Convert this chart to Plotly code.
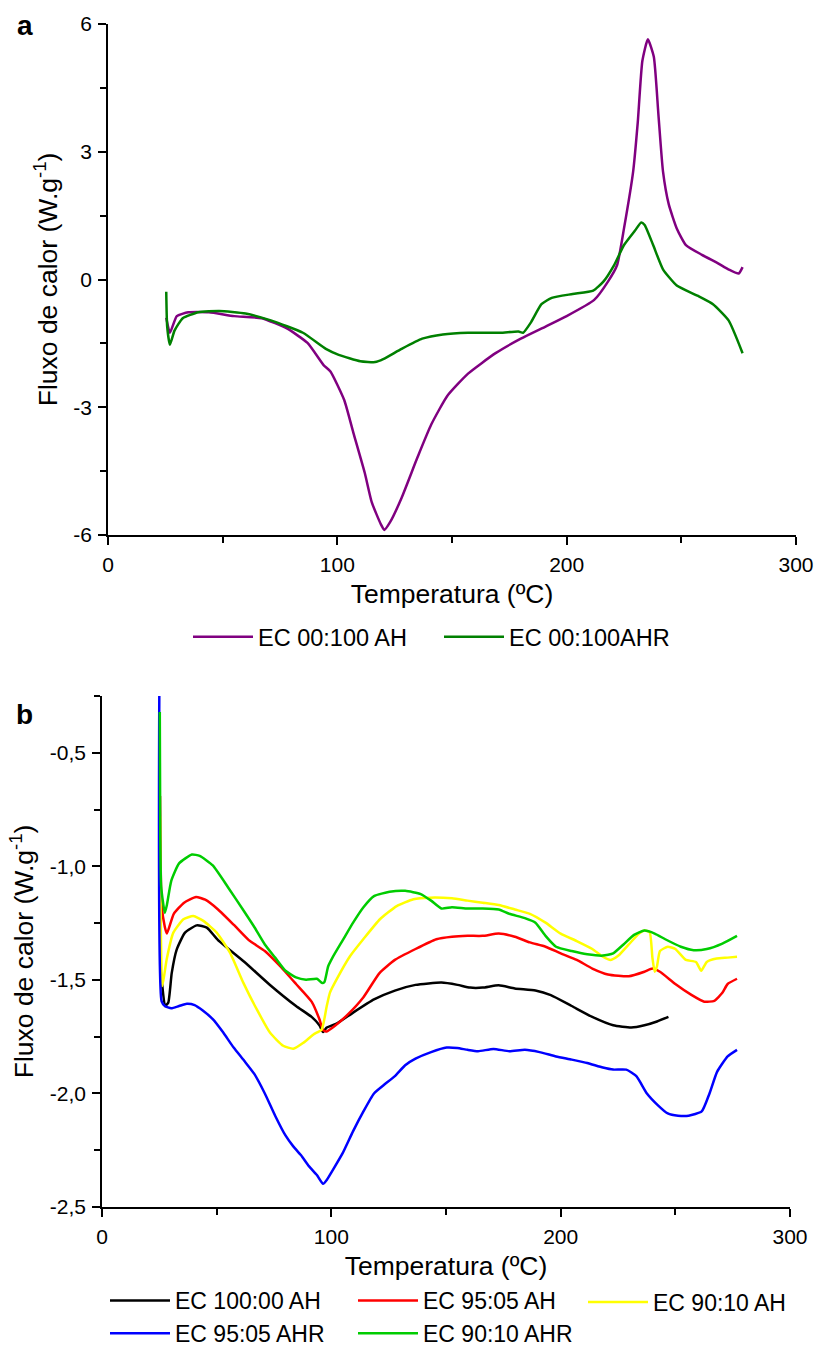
import plotly.graph_objects as go

# ---------------- Panel a data ----------------
a_x_ticks = [0, 100, 200, 300]
a_x_ticktext = ["0", "100", "200", "300"]
a_y_ticks = [-6, -3, 0, 3, 6]
a_y_ticktext = ["-6", "-3", "0", "3", "6"]

ah_T = [25.4, 27, 30, 35, 44, 55, 67, 78, 87, 94, 97, 103, 107, 112, 115, 119, 120.5, 123, 128,
        135, 141, 148, 157, 169, 180, 191, 200, 212, 218, 222, 225, 229, 231, 233, 235.4, 238, 240,
        242, 244.5, 248, 252, 259, 266, 270.5, 275, 276.7]
ah_V = [-0.9, -1.25, -0.86, -0.77, -0.77, -0.86, -0.91, -1.15, -1.49, -2.01, -2.16, -2.83, -3.6,
        -4.55, -5.23, -5.75, -5.88, -5.7, -5.13, -4.17, -3.40, -2.73, -2.21, -1.73, -1.39, -1.10,
        -0.86, -0.48, -0.05, 0.34, 1.20, 2.54, 3.69, 5.13, 5.64, 5.23, 3.88, 2.54, 1.77, 1.20, 0.81,
        0.58, 0.38, 0.24, 0.14, 0.29]

ahr_T = [25.4, 25.8, 27, 29, 32.6, 39.4, 48.5, 60, 71, 85, 95, 100.6, 110, 116.5, 120, 128, 137,
         146, 157, 171, 179, 181, 184.5, 189, 193.5, 202.6, 211.6, 216, 220.7, 225, 229.8, 232.5,
         234, 237.7, 242, 248, 257, 263.8, 270.6, 276.7]
ahr_V = [-0.29, -1.1, -1.53, -1.20, -0.91, -0.77, -0.74, -0.80, -0.96, -1.25, -1.63, -1.77, -1.92,
         -1.94, -1.87, -1.63, -1.39, -1.29, -1.25, -1.25, -1.22, -1.25, -1.0, -0.58, -0.43, -0.34,
         -0.26, -0.05, 0.34, 0.81, 1.15, 1.34, 1.28, 0.81, 0.24, -0.14, -0.38, -0.58, -0.96, -1.73]

# ---------------- Panel b data ----------------
b_x_ticks = [0, 100, 200, 300]
b_x_ticktext = ["0", "100", "200", "300"]
b_y_ticks = [-2.5, -2.0, -1.5, -1.0, -0.5]
b_y_ticktext = ["-2,5", "-2,0", "-1,5", "-1,0", "-0,5"]

k100_T = [25.5, 26.3, 27.5, 28.9, 30.4, 32.6, 36.2, 41.3, 45.7, 50.6, 62, 73, 84.6, 91.4, 94.8,
          96.4, 98, 102.7, 109.5, 118.6, 127.7, 136.7, 148, 155, 160.5, 166, 173, 180, 189, 195.7,
          204.8, 213.8, 222.9, 230.8, 236.5, 242, 247]
k100_V = [-1.45, -1.527, -1.615, -1.6, -1.47, -1.366, -1.292, -1.26, -1.27, -1.325, -1.42, -1.52,
          -1.615, -1.663, -1.70, -1.73, -1.71, -1.69, -1.644, -1.586, -1.547, -1.522, -1.512,
          -1.522, -1.534, -1.534, -1.524, -1.538, -1.547, -1.567, -1.615, -1.663, -1.70, -1.71,
          -1.70, -1.683, -1.663]

r95_T = [25.3, 26, 27.4, 28.3, 31.3, 35.8, 41, 45, 50.6, 57.4, 64, 71, 77.8, 84.6, 91.4, 94.8,
         96.4, 98, 101.6, 107, 114, 121, 127.7, 136.7, 145.8, 152.6, 159.4, 166, 173, 180, 186.6,
         193.4, 200, 207, 213.8, 220.6, 229.7, 236.5, 240, 243.3, 250, 257, 262.6, 267, 270.5,
         272.8, 276.9]
r95_V = [-0.69, -1.17, -1.267, -1.296, -1.209, -1.16, -1.135, -1.147, -1.19, -1.257, -1.325,
         -1.373, -1.441, -1.518, -1.596, -1.673, -1.721, -1.727, -1.702, -1.654, -1.576, -1.47,
         -1.412, -1.364, -1.321, -1.31, -1.306, -1.306, -1.296, -1.31, -1.335, -1.354, -1.383,
         -1.412, -1.45, -1.476, -1.484, -1.464, -1.45, -1.464, -1.518, -1.566, -1.596, -1.592,
         -1.557, -1.518, -1.495]

y90_T = [25.3, 26.3, 28.2, 31.1, 35.5, 39.8, 44.2, 50, 55.8, 61.6, 67.5, 73.3, 79, 83.4, 87.8,
         92.2, 95.8, 98, 99.4, 102.3, 108.2, 114, 121.2, 128.5, 135.8, 143, 152.6, 159.4, 166, 173,
         180, 186.6, 193.4, 200, 207, 213.8, 218.4, 221.8, 225.2, 229.7, 234.2, 236.5, 238.8, 240,
         241, 242, 243.3, 246.7, 250, 254.6, 259, 261.3, 263.7, 268, 272.8, 276.9]
y90_V = [-0.78, -1.527, -1.41, -1.292, -1.233, -1.219, -1.24, -1.292, -1.38, -1.512, -1.63,
         -1.733, -1.79, -1.803, -1.777, -1.74, -1.718, -1.615, -1.556, -1.498, -1.395, -1.32,
         -1.233, -1.175, -1.145, -1.138, -1.141, -1.151, -1.16, -1.17, -1.19, -1.209, -1.248,
         -1.296, -1.329, -1.364, -1.398, -1.412, -1.393, -1.344, -1.296, -1.283, -1.29, -1.402,
         -1.464, -1.44, -1.373, -1.354, -1.364, -1.412, -1.421, -1.46, -1.421, -1.406, -1.402,
         -1.398]

b95r_T = [25, 26, 27.4, 30.2, 33.6, 37, 40.4, 43.8, 48.3, 52.8, 57.4, 62, 66.4, 71, 75.5, 80,
          83.4, 86.8, 90.2, 93.7, 96.4, 98.2, 100.5, 105, 109.5, 114, 118.6, 123, 127.7, 132.2,
          136.7, 143.5, 150.3, 154.9, 159.4, 164, 170.7, 177.6, 184.4, 190.8, 198, 204.8, 211.6,
          218.4, 222.9, 228.6, 233, 237.6, 242.2, 246.7, 251.2, 255.8, 261.5, 264.9, 268.2, 272.8,
          276.9]
b95r_V = [-0.22, -1.595, -1.615, -1.625, -1.615, -1.605, -1.611, -1.634, -1.673, -1.731, -1.798,
          -1.856, -1.914, -2.0, -2.098, -2.185, -2.233, -2.272, -2.32, -2.359, -2.398, -2.378,
          -2.34, -2.262, -2.166, -2.079, -2.0, -1.962, -1.924, -1.876, -1.847, -1.818, -1.798,
          -1.8, -1.808, -1.814, -1.804, -1.814, -1.808, -1.818, -1.837, -1.851, -1.866, -1.886,
          -1.895, -1.895, -1.924, -2.0, -2.05, -2.088, -2.098, -2.098, -2.079, -2.0, -1.905,
          -1.837, -1.808]

g90r_T = [25.2, 25.4, 25.8, 27.4, 28.3, 30.2, 33.6, 39.2, 42.6, 48.3, 55, 62, 66.4, 71, 75.5, 80,
          84.6, 89, 93.7, 96, 97, 98.6, 100.5, 105, 109.5, 114, 118.6, 125.4, 132.2, 139, 143.5,
          148, 152.6, 159.4, 166, 173, 177.6, 184.4, 189, 193.4, 198, 204.8, 211.6, 218.4, 222.9,
          227.4, 232, 236.5, 241, 245.6, 252.4, 258, 263.7, 270.5, 276.9]
g90r_V = [-0.32, -0.86, -1.09, -1.205, -1.17, -1.064, -0.987, -0.948, -0.954, -0.996, -1.093,
          -1.199, -1.267, -1.344, -1.402, -1.46, -1.489, -1.499, -1.495, -1.514, -1.509, -1.441,
          -1.402, -1.325, -1.248, -1.18, -1.131, -1.112, -1.108, -1.122, -1.151, -1.186, -1.18,
          -1.186, -1.186, -1.19, -1.209, -1.228, -1.248, -1.306, -1.354, -1.373, -1.387, -1.393,
          -1.383, -1.344, -1.302, -1.283, -1.296, -1.321, -1.354, -1.369, -1.364, -1.34, -1.306]

for a, b in [(ah_T, ah_V), (ahr_T, ahr_V), (k100_T, k100_V), (r95_T, r95_V), (y90_T, y90_V),
             (b95r_T, b95r_V), (g90r_T, g90r_V)]:
    assert len(a) == len(b), (len(a), len(b))

FONT = "Liberation Sans, Arial, sans-serif"
W, H = 815, 1347

fig = go.Figure()
line_shape = dict(shape="spline", smoothing=0.5, width=2.5)

fig.add_trace(go.Scatter(x=ah_T, y=ah_V, mode="lines", name="EC 00:100 AH",
                         line=dict(color="#800080", **line_shape), xaxis="x", yaxis="y", legend="legend"))
fig.add_trace(go.Scatter(x=ahr_T, y=ahr_V, mode="lines", name="EC 00:100AHR",
                         line=dict(color="#008000", **line_shape), xaxis="x", yaxis="y", legend="legend2"))

b_series = [
    (k100_T, k100_V, "EC 100:00 AH", "#000000", "legend3"),
    (r95_T, r95_V, "EC 95:05 AH", "#FF0000", "legend4"),
    (y90_T, y90_V, "EC 90:10 AH", "#FFFF00", "legend5"),
    (b95r_T, b95r_V, "EC 95:05 AHR", "#0000FF", "legend3"),
    (g90r_T, g90r_V, "EC 90:10 AHR", "#00CC00", "legend4"),
]
for tx, vy, nm, col, lg in b_series:
    fig.add_trace(go.Scatter(x=tx, y=vy, mode="lines", name=nm,
                             line=dict(color=col, **line_shape), xaxis="x2", yaxis="y2", legend=lg))

def px_x(p):
    return p / W

def px_y(p):
    return 1 - p / H

axis_common = dict(showline=True, linecolor="black", linewidth=1.8, showgrid=False, zeroline=False,
                   ticks="outside", ticklen=8, tickwidth=1.8, tickcolor="black",
                   tickfont=dict(family=FONT, size=21, color="black"), mirror=False,
                   ticklabelstandoff=2, automargin=False)
minor_common = dict(ticks="outside", ticklen=6, tickwidth=1.8, tickcolor="black", tick0=0)
title_font = dict(family=FONT, size=26.5, color="black")

def leg(xp, yp, size=23.5):
    return dict(orientation="v", x=px_x(xp), xanchor="left", y=px_y(yp), yanchor="middle",
                font=dict(family=FONT, size=size, color="black"), itemwidth=60,
                bgcolor="rgba(0,0,0,0)", borderwidth=0)

fig.update_layout(
    width=W, height=H,
    margin=dict(l=0, r=0, t=0, b=0, autoexpand=False),
    paper_bgcolor="white", plot_bgcolor="white",
    separators=", ",
    xaxis=dict(domain=[px_x(108), px_x(796)], range=[0, 300], anchor="y",
               tickmode="array", tickvals=a_x_ticks, ticktext=a_x_ticktext,
               minor=dict(dtick=50, **minor_common),
               title=dict(text="Temperatura (ºC)", font=title_font, standoff=9),
               **axis_common),
    yaxis=dict(domain=[px_y(535), px_y(24)], range=[-6, 6], anchor="x",
               tickmode="array", tickvals=a_y_ticks, ticktext=a_y_ticktext,
               minor=dict(dtick=1.5, **minor_common),
               title=dict(text="Fluxo de calor (W.g<sup>-1</sup>)", font=title_font, standoff=8),
               **axis_common),
    xaxis2=dict(domain=[px_x(102), px_x(790)], range=[0, 300], anchor="y2",
                tickmode="array", tickvals=b_x_ticks, ticktext=b_x_ticktext,
                minor=dict(dtick=50, **minor_common),
                title=dict(text="Temperatura (ºC)", font=title_font, standoff=9),
                **axis_common),
    yaxis2=dict(domain=[px_y(1207), px_y(696)], range=[-2.5, -0.25], anchor="x2",
                tickmode="array", tickvals=b_y_ticks, ticktext=b_y_ticktext,
                minor=dict(dtick=0.25, **minor_common),
                title=dict(text="Fluxo de calor (W.g<sup>-1</sup>)", font=title_font, standoff=8),
                **axis_common),
    legend=leg(188, 637),
    legend2=leg(439, 637),
    legend3=leg(105, 1317, 23),
    legend4=leg(353, 1317, 23),
    legend5=leg(583, 1302, 23),
    showlegend=True,
    annotations=[
        dict(text="<b>a</b>", x=px_x(25), y=px_y(26), xref="paper", yref="paper",
             xanchor="center", yanchor="middle",
             showarrow=False, font=dict(family=FONT, size=28, color="black")),
        dict(text="<b>b</b>", x=px_x(24), y=px_y(714), xref="paper", yref="paper",
             xanchor="center", yanchor="middle",
             showarrow=False, font=dict(family=FONT, size=28, color="black")),
    ],
)

fig.write_html("out.html")
